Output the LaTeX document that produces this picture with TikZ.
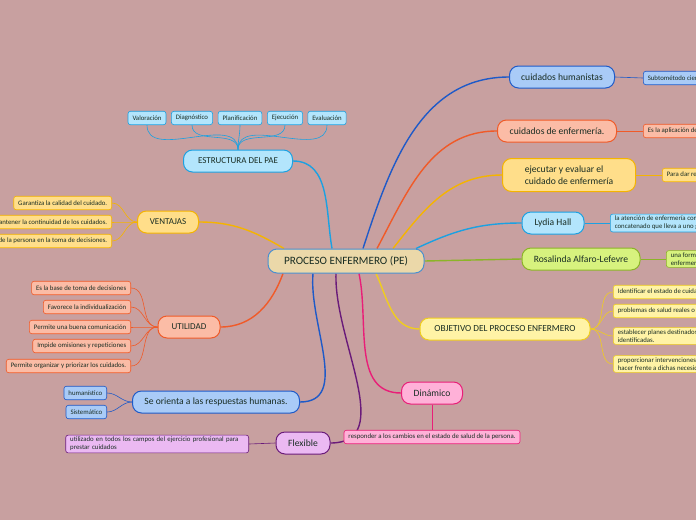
\documentclass[tikz,border=0pt]{standalone}
\usepackage{fontspec}
\setmainfont{Carlito}
\definecolor{MapBg}{RGB}{200,160,160}
\definecolor{MapText}{RGB}{25,45,35}
\definecolor{PeFill}{RGB}{235,216,169}
\definecolor{PeLine}{RGB}{74,144,208}
\definecolor{SkyFill}{RGB}{179,229,252}
\definecolor{SkyLine}{RGB}{27,161,226}
\definecolor{BlueFill}{RGB}{169,203,247}
\definecolor{BlueLine}{RGB}{30,90,200}
\definecolor{SalmonFill}{RGB}{251,188,166}
\definecolor{SalmonLine}{RGB}{240,90,40}
\definecolor{GoldFill}{RGB}{255,222,138}
\definecolor{GoldLine}{RGB}{245,180,0}
\definecolor{LimeFill}{RGB}{215,242,126}
\definecolor{LimeLine}{RGB}{140,180,40}
\definecolor{LemonFill}{RGB}{255,243,166}
\definecolor{LemonLine}{RGB}{240,205,30}
\definecolor{PinkFill}{RGB}{255,177,216}
\definecolor{PinkLine}{RGB}{233,30,120}
\definecolor{VioletFill}{RGB}{235,185,242}
\definecolor{VioletLine}{RGB}{106,27,122}
\usetikzlibrary{backgrounds}

\tikzset{
  topic/.style={rectangle, rounded corners=9pt, line width=1pt, minimum height=22pt,
                inner xsep=6pt, font=\fontsize{9.6}{11.5}\selectfont, text=MapText},
  leaf/.style={rectangle, rounded corners=2.5pt, line width=0.6pt, minimum height=13.5pt,
               inner xsep=4.5pt, inner ysep=2pt, align=left,
               font=\fontsize{6.8}{8}\selectfont, text=MapText},
  branch/.style={line width=1.4pt},
  twig/.style={line width=0.6pt},
}

\begin{document}
\begin{tikzpicture}[x=1pt,y=1pt]
  \useasboundingbox (0,0) rectangle (696,-520);
  \begin{scope}[on background layer]
    \fill[MapBg] (0,0) rectangle (696,-520);
  \end{scope}
  \clip (0,0) rectangle (696,-520);

  % centro
  \node[topic, fill=PeFill, draw=PeLine, minimum width=156pt, minimum height=24pt,
        font=\fontsize{11.2}{13}\selectfont] (pe) at (346,-261) {PROCESO ENFERMERO (PE)};

  % estructura
  \node[topic, fill=SkyFill, draw=SkyLine, minimum width=109pt, font=\fontsize{9}{11}\selectfont] (estructura) at (238,-161) {ESTRUCTURA DEL PAE};
  \node[leaf, fill=SkyFill, draw=SkyLine] (valoracion) at (147,-118) {Valoración};
  \node[leaf, fill=SkyFill, draw=SkyLine] (diagnostico) at (192,-118) {Diagnóstico};
  \node[leaf, fill=SkyFill, draw=SkyLine] (planificacion) at (240,-118) {Planificación};
  \node[leaf, fill=SkyFill, draw=SkyLine] (ejecucion) at (285,-118) {Ejecución};
  \node[leaf, fill=SkyFill, draw=SkyLine] (evaluacion) at (327,-118) {Evaluación};

  % ventajas
  \node[topic, fill=GoldFill, draw=GoldLine, minimum width=61pt, font=\fontsize{9}{11}\selectfont] (ventajas) at (168,-222) {VENTAJAS};
  \node[leaf, fill=GoldFill, draw=GoldLine, anchor=east] (garantiza) at (112,-203) {Garantiza la calidad del cuidado.};
  \node[leaf, fill=GoldFill, draw=GoldLine, anchor=east] (mantener) at (112,-222) {Mantener la continuidad de los cuidados.};
  \node[leaf, fill=GoldFill, draw=GoldLine, anchor=east] (participa) at (112,-241) {Participación de la persona en la toma de decisiones.};

  % utilidad
  \node[topic, fill=SalmonFill, draw=SalmonLine, minimum width=62pt, font=\fontsize{9}{11}\selectfont] (utilidad) at (189,-327) {UTILIDAD};
  \node[leaf, fill=SalmonFill, draw=SalmonLine, anchor=east] (base) at (131,-288) {Es la base de toma de decisiones};
  \node[leaf, fill=SalmonFill, draw=SalmonLine, anchor=east] (favorece) at (131,-307) {Favorece la individualización};
  \node[leaf, fill=SalmonFill, draw=SalmonLine, anchor=east] (comunica) at (131,-327) {Permite una buena comunicación};
  \node[leaf, fill=SalmonFill, draw=SalmonLine, anchor=east] (impide) at (131,-346) {Impide omisiones y repeticiones};
  \node[leaf, fill=SalmonFill, draw=SalmonLine, anchor=east] (organiza) at (131,-366) {Permite organizar y priorizar los cuidados.};

  % orienta
  \node[topic, fill=BlueFill, draw=BlueLine, minimum width=167pt] (orienta) at (216,-402) {Se orienta a las respuestas humanas.};
  \node[leaf, fill=BlueFill, draw=BlueLine, anchor=east] (humanistico) at (107,-393) {humanístico};
  \node[leaf, fill=BlueFill, draw=BlueLine, anchor=east] (sistematico) at (107,-412) {Sistemático};

  % flexible
  \node[topic, fill=VioletFill, draw=VioletLine, minimum width=54pt] (flexible) at (303,-443) {Flexible};
  \node[leaf, fill=VioletFill, draw=VioletLine, anchor=east, text width=174pt] (campos) at (249,-444)
    {utilizado en todos los campos del ejercicio profesional para\\prestar cuidados};

  % dinamico
  \node[topic, fill=PinkFill, draw=PinkLine, minimum width=61pt] (dinamico) at (432,-393) {Dinámico};
  \node[leaf, fill=PinkFill, draw=PinkLine] (cambios) at (432,-437) {responder a los cambios en el estado de salud de la persona.};

  % objetivo
  \node[topic, fill=LemonFill, draw=LemonLine, minimum width=170pt, font=\fontsize{9.3}{11}\selectfont] (objetivo) at (505,-329) {OBJETIVO DEL PROCESO ENFERMERO};
  \node[leaf, fill=LemonFill, draw=LemonLine, anchor=west] (identificar) at (613,-292) {Identificar el estado de cuidado de salud del paciente.};
  \node[leaf, fill=LemonFill, draw=LemonLine, anchor=west] (problemas) at (613,-311) {problemas de salud reales o potenciales.};
  \node[leaf, fill=LemonFill, draw=LemonLine, anchor=west] (planes) at (613,-336) {establecer planes destinados a cubrir las necesidades\\identificadas.};
  \node[leaf, fill=LemonFill, draw=LemonLine, anchor=west] (intervenir) at (613,-364) {proporcionar intervenciones de enfermería para\\hacer frente a dichas necesidades.};

  % derecha
  \node[topic, fill=BlueFill, draw=BlueLine, minimum width=105pt] (humanistas) at (562,-77) {cuidados humanistas};
  \node[leaf, fill=BlueFill, draw=BlueLine, anchor=west] (metodo) at (643,-78) {Subtométodo científico};
  \node[topic, fill=SalmonFill, draw=SalmonLine, minimum width=119pt] (enfermeria) at (557,-131) {cuidados de enfermería.};
  \node[leaf, fill=SalmonFill, draw=SalmonLine, anchor=west] (aplicacion) at (643,-131) {Es la aplicación del método científico};
  \node[topic, fill=GoldFill, draw=GoldLine, minimum width=133pt, minimum height=33pt, align=left] (ejecutar) at (569,-175)
    {ejecutar y evaluar el\\cuidado de enfermería};
  \node[leaf, fill=GoldFill, draw=GoldLine, anchor=west] (respuesta) at (662,-175) {Para dar respuesta};
  \node[topic, fill=SkyFill, draw=SkyLine, minimum width=62pt] (lydia) at (553,-223) {Lydia Hall};
  \node[leaf, fill=SkyFill, draw=SkyLine, anchor=west] (atencion) at (610,-223)
    {la atención de enfermería como un proceso\\concatenado que lleva a uno global};
  \node[topic, fill=LimeFill, draw=LimeLine, minimum width=118pt] (rosalinda) at (581,-259) {Rosalinda Alfaro-Lefevre};
  \node[leaf, fill=LimeFill, draw=LimeLine, anchor=west] (forma) at (666,-259) {una forma organizada\\enfermería};

  \begin{scope}[on background layer]
    % ramas del centro
    \draw[branch, SkyLine] (estructura.east) to[out=0,in=100] ([xshift=-14pt]pe.north);
    \draw[branch, GoldLine] (ventajas.east) to[out=0,in=150] ([xshift=-62pt]pe.north);
    \draw[branch, SalmonLine] (utilidad.east) to[out=0,in=-110] ([xshift=-63pt]pe.south);
    \draw[branch, BlueLine] (orienta.east) to[out=0,in=-95] ([xshift=-33pt]pe.south);
    \draw[branch, VioletLine] (flexible.east) to[out=0,in=-92] ([xshift=-10pt]pe.south);
    \draw[branch, PinkLine] (dinamico.west) to[out=180,in=-78] ([xshift=13pt]pe.south);
    \draw[branch, LemonLine] (objetivo.west) to[out=180,in=-65] ([xshift=30pt]pe.south);
    \draw[branch, BlueLine] (humanistas.west) to[out=180,in=72] ([xshift=17pt]pe.north);
    \draw[branch, SalmonLine] (enfermeria.west) to[out=180,in=62] ([xshift=31pt]pe.north);
    \draw[branch, GoldLine] (ejecutar.west) to[out=180,in=52] ([xshift=47pt]pe.north);
    \draw[branch, SkyLine] (lydia.west) to[out=180,in=25] ([xshift=70pt]pe.north);
    \draw[branch, LimeLine] (rosalinda.west) -- (pe.east);
    % hojas
    \foreach \n in {valoracion,diagnostico,planificacion,ejecucion,evaluacion}
      \draw[twig, SkyLine] (\n.south) to[out=-90,in=90] (estructura.north);
    \foreach \n in {garantiza,mantener,participa}
      \draw[twig, GoldLine] (\n.east) to[out=0,in=180] (ventajas.west);
    \foreach \n in {base,favorece,comunica,impide,organiza}
      \draw[twig, SalmonLine] (\n.east) to[out=0,in=180] (utilidad.west);
    \foreach \n in {humanistico,sistematico}
      \draw[twig, BlueLine] (\n.east) to[out=0,in=180] (orienta.west);
    \draw[twig, VioletLine] (campos.east) -- (flexible.west);
    \draw[twig, PinkLine] (dinamico.south) -- (cambios.north);
    \foreach \n in {identificar,problemas,planes,intervenir}
      \draw[twig, LemonLine] (objetivo.east) to[out=0,in=180] (\n.west);
    \draw[twig, BlueLine] (humanistas.east) -- (metodo.west);
    \draw[twig, SalmonLine] (enfermeria.east) -- (aplicacion.west);
    \draw[twig, GoldLine] (ejecutar.east) -- (respuesta.west);
    \draw[twig, SkyLine] (lydia.east) -- (atencion.west);
    \draw[twig, LimeLine] (rosalinda.east) -- (forma.west);
  \end{scope}
\end{tikzpicture}
\end{document}
